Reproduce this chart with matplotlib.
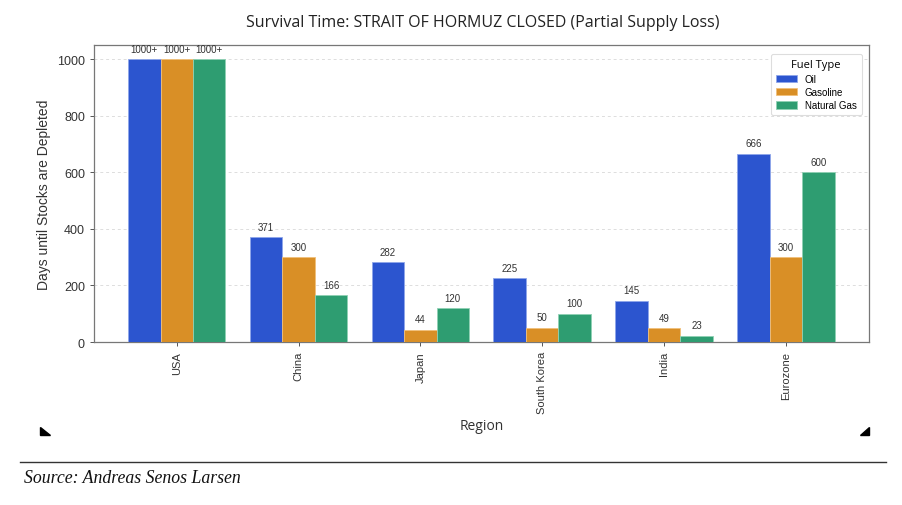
import matplotlib
matplotlib.use("Agg")
import matplotlib.pyplot as plt
import numpy as np

regions = ["USA", "China", "Japan", "South Korea", "India", "Eurozone"]
fuels = ["Oil", "Gasoline", "Natural Gas"]
oil = [1000, 371, 282, 225, 145, 666]
gasoline = [1000, 300, 44, 50, 49, 300]
natural_gas = [1000, 166, 120, 100, 23, 600]
oil_labels = ["1000+", "371", "282", "225", "145", "666"]
gasoline_labels = ["1000+", "300", "44", "50", "49", "300"]
gas_labels = ["1000+", "166", "120", "100", "23", "600"]

colors = ["#2c55cf", "#d98f26", "#2e9d71"]
edges = ["#8fa6ea", "#f0c07a", "#8fd1b4"]

fig = plt.figure(figsize=(9.03, 5.06), dpi=100)
ax = fig.add_axes([0.104, 0.322, 0.858, 0.587])

x = np.arange(len(regions))
w = 0.8 / 3
series = [oil, gasoline, natural_gas]
labels = [oil_labels, gasoline_labels, gas_labels]
for i, (vals, labs) in enumerate(zip(series, labels)):
    pos = x + (i - 1) * w
    bars = ax.bar(pos, vals, width=w, color=colors[i], edgecolor=edges[i],
                  linewidth=0.6, label=fuels[i], zorder=3)
    for b, lab in zip(bars, labs):
        ax.annotate(lab, (b.get_x() + b.get_width() / 2, b.get_height()),
                    xytext=(0, 4), textcoords="offset points",
                    ha="center", va="bottom", fontsize=7, color="#333333",
                    family="Liberation Sans")

ax.set_ylim(0, 1050)
ax.set_xlim(-0.68, 5.68)
ax.set_yticks([0, 200, 400, 600, 800, 1000])
ax.set_xticks(x)
ax.set_xticklabels(regions, rotation=90, fontsize=8, family="Liberation Sans", color="#333333")
for t in ax.get_yticklabels():
    t.set_fontsize(9)
    t.set_family("Liberation Sans")
    t.set_color("#333333")
ax.yaxis.grid(True, linestyle=(0, (3, 3)), color="#dddddd", linewidth=0.7, zorder=0)
for s in ax.spines.values():
    s.set_color("#777777")
    s.set_linewidth(0.9)
ax.tick_params(axis="both", colors="#555555", length=3, width=0.7)
ax.tick_params(axis="both", labelcolor="#333333")

ax.set_ylabel("Days until Stocks are Depleted", fontsize=10, family="Liberation Sans",
              color="#333333", labelpad=4)
ax.set_xlabel("Region", fontsize=10, family="Open Sans", color="#333333", labelpad=3)
fig.text(0.535, 0.955, "Survival Time: STRAIT OF HORMUZ CLOSED (Partial Supply Loss)",
         ha="center", va="center", fontsize=11.5, family="Open Sans", color="#222222")

leg = ax.legend(title="Fuel Type", loc="upper right", fontsize=7, title_fontsize=8,
                frameon=True, framealpha=1, edgecolor="#dddddd",
                prop={"family": "Liberation Sans", "size": 7},
                handlelength=2.2, handleheight=0.8, borderpad=0.5,
                labelspacing=0.35, bbox_to_anchor=(0.997, 0.985))
leg.get_title().set_family("Open Sans")
leg.get_frame().set_linewidth(0.8)

# corner marks
fig.patches.append(plt.Polygon([[40 / 903, 1 - 428 / 506], [40 / 903, 1 - 436 / 506],
                                [50 / 903, 1 - 436 / 506]], closed=True,
                               transform=fig.transFigure, color="black"))
fig.patches.append(plt.Polygon([[869 / 903, 1 - 428 / 506], [869 / 903, 1 - 436 / 506],
                                [860 / 903, 1 - 436 / 506]], closed=True,
                               transform=fig.transFigure, color="black"))
fig.add_artist(plt.Line2D([20 / 903, 886 / 903], [1 - 463 / 506, 1 - 463 / 506],
                          transform=fig.transFigure, color="#333333", linewidth=1))
fig.text(24 / 903, 1 - 479 / 506, "Source: Andreas Senos Larsen", ha="left", va="center",
         fontsize=12.8, family="Liberation Serif", style="italic", color="#111111")

fig.savefig("out.png", dpi=100)
